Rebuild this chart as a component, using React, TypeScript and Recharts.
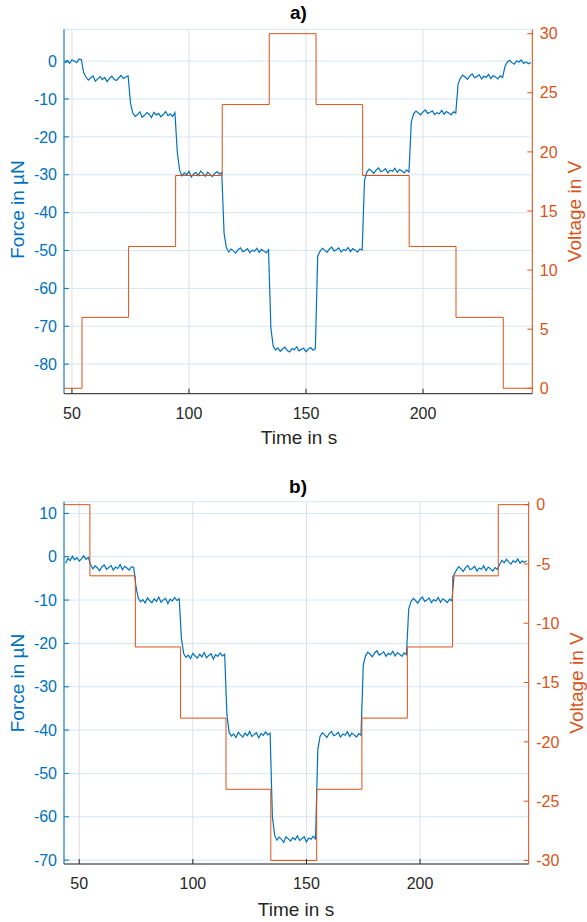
import React from 'react';
import { LineChart, Line, XAxis, YAxis, CartesianGrid } from 'recharts';

const FONT = '"Liberation Sans", Arial, Helvetica, sans-serif';
const BLUE = '#0072BD';
const ORANGE = '#D95319';
const DARK = '#262626';
const GRID_H = '#d6e7f4';
const GRID_V = '#dcdfe3';

const X_TICKS = [50, 100, 150, 200];

// ---- panel a) ----
const FORCE_A_START = 47; // s, one sample per second
const FORCE_A = [
  -0.5, 0.1, -0.6, 0.3, 0.0, -0.4, 0.6, 0.4,
  -3.0, -4.2, -5.0, -4.4, -3.9, -5.3, -4.7, -4.1, -4.9, -4.3, -5.4, -4.6, -4.0, -4.8, -5.1, -4.4, -3.8, -4.6, -4.2, -3.9,
  -11.0, -13.7, -14.6, -14.1, -13.4, -14.8, -14.3, -13.6, -14.0, -14.9, -13.5, -14.2, -13.8, -14.7, -14.1, -13.3, -14.4, -13.9, -14.6, -13.6,
  -24.0, -28.8, -30.3, -29.5, -30.0, -29.1, -30.6, -29.8, -29.4, -30.2, -29.0, -29.7, -30.4, -29.3, -29.9, -30.5, -29.6, -29.2, -29.8, -29.4,
  -45.5, -49.3, -50.4, -49.6, -50.1, -50.7, -49.8, -49.3, -50.3, -50.0, -49.5, -50.6, -49.9, -50.2, -49.4, -50.5, -49.7, -50.1, -50.6, -49.8,
  -70.5, -75.3, -76.3, -75.7, -76.6, -76.0, -75.5, -76.4, -76.8, -75.9, -76.2, -75.4, -76.5, -76.1, -75.8, -76.7, -76.0, -75.6, -76.3, -75.9,
  -51.5, -50.2, -49.4, -49.9, -50.5, -49.6, -49.1, -50.1, -49.8, -49.3, -50.4, -49.7, -50.0, -49.2, -50.3, -49.5, -49.9, -50.4, -49.6, -49.9,
  -31.5, -29.3, -28.5, -29.0, -29.6, -28.7, -28.2, -29.2, -28.9, -28.4, -29.5, -28.8, -29.1, -28.3, -29.4, -28.6, -29.0, -29.5, -28.7, -29.3,
  -16.0, -13.9, -13.2, -13.7, -14.2, -13.4, -12.9, -13.8, -13.5, -13.1, -14.1, -13.6, -13.9, -13.0, -14.0, -13.3, -13.7, -14.2, -13.4, -13.7,
  -6.0, -4.5, -3.7, -4.2, -4.8, -3.9, -3.4, -4.4, -4.1, -3.6, -4.7, -4.0, -4.3, -3.5, -4.6, -3.8, -4.2, -4.7, -3.9, -4.3,
  -1.5, -0.2, 0.2, -0.4, -0.8, 0.1, -0.3, 0.3, -0.6, -0.2, -0.7, -0.4,
];
const VOLT_A_TIME = [46.6, 54.3, 74.2, 94.3, 114.2, 134.3, 154.3, 174.2, 194.1, 214.1, 234.3, 246.7];
const VOLT_A = [0, 6, 12, 18, 24, 30, 24, 18, 12, 6, 0, 0];
const FORCE_A_TICKS = [-80, -70, -60, -50, -40, -30, -20, -10, 0];
const VOLT_A_TICKS = [0, 5, 10, 15, 20, 25, 30];

// ---- panel b) ----
const FORCE_B_START = 44;
const FORCE_B = [
  -1.5, -0.4, -0.9, 0.1, -0.7, -0.2, -1.0, -0.5, 0.2, -0.6, -0.2,
  -1.8, -2.8, -2.1, -2.6, -3.2, -2.3, -1.9, -2.9, -2.5, -2.0, -3.1, -2.4, -2.7, -1.8, -3.0, -2.2, -2.6, -3.1, -2.3, -2.5,
  -7.0, -9.6, -10.4, -9.9, -10.7, -9.5, -10.1, -10.6, -9.7, -10.3, -9.3, -10.5, -10.0, -9.6, -10.8, -9.8, -10.2, -9.4, -10.1, -9.7,
  -19.0, -22.4, -23.2, -22.7, -23.5, -22.3, -22.9, -23.4, -22.5, -23.1, -22.1, -23.3, -22.8, -22.4, -23.6, -22.6, -23.0, -22.2, -22.9, -22.5,
  -36.5, -40.6, -41.4, -40.9, -41.7, -40.5, -41.1, -41.6, -40.7, -41.3, -40.3, -41.5, -41.0, -40.6, -41.8, -40.8, -41.2, -40.4, -41.1, -40.7,
  -60.0, -64.3, -65.4, -64.7, -65.2, -65.9, -64.6, -65.1, -65.6, -64.8, -65.3, -64.4, -65.5, -65.0, -64.6, -65.8, -64.9, -65.2, -64.5, -65.1,
  -44.5, -41.4, -40.6, -41.1, -41.7, -40.8, -40.3, -41.3, -41.0, -40.5, -41.6, -40.9, -41.2, -40.4, -41.5, -40.7, -41.1, -41.6, -40.8, -41.2,
  -25.0, -22.8, -22.0, -22.5, -23.1, -22.2, -21.7, -22.7, -22.4, -21.9, -23.0, -22.3, -22.6, -21.8, -22.9, -22.1, -22.5, -23.0, -22.2, -22.6,
  -12.0, -10.4, -9.6, -10.1, -10.7, -9.8, -9.3, -10.3, -10.0, -9.5, -10.6, -9.9, -10.2, -9.4, -10.5, -9.7, -10.1, -10.6, -9.8, -10.2,
  -4.0, -3.1, -2.3, -2.8, -3.4, -2.5, -2.0, -3.0, -2.7, -2.2, -3.3, -2.6, -2.9, -2.1, -3.2, -2.4, -2.8, -3.3, -2.5, -2.9,
  -1.8, -0.8, -1.4, -0.6, -1.2, -1.7, -0.9, -1.3, -0.5, -1.5, -1.0, -1.3, -0.9,
];
const VOLT_B_TIME = [43.3, 54.7, 74.7, 94.6, 114.6, 134.3, 154.5, 174.4, 194.4, 214.3, 234.4, 247.8];
const VOLT_B = [0, -6, -12, -18, -24, -30, -24, -18, -12, -6, 0, 0];
const FORCE_B_TICKS = [-70, -60, -50, -40, -30, -20, -10, 0, 10];
const VOLT_B_TICKS = [-30, -25, -20, -15, -10, -5, 0];

const tickFont = { fontSize: 16, fontFamily: FONT };

type PanelProps = {
  top: number;
  height: number;
  marginTop: number;
  xAxisHeight: number;
  rightWidth: number;
  xDomain: [number, number];
  leftDomain: [number, number];
  rightDomain: [number, number];
  leftTicks: number[];
  rightTicks: number[];
  force: { t: number; f: number }[];
  volt: { t: number; v: number }[];
};

function Panel(p: PanelProps) {
  return (
    <div style={{ position: 'absolute', left: 0, top: p.top }}>
      <LineChart
        width={587}
        height={p.height}
        margin={{ top: p.marginTop, right: 0, bottom: 0, left: 0 }}
      >
        <CartesianGrid yAxisId="left" horizontal={false} stroke={GRID_V} />
        <CartesianGrid yAxisId="left" vertical={false} stroke={GRID_H} />
        <XAxis
          dataKey="t"
          type="number"
          domain={p.xDomain}
          allowDataOverflow
          ticks={X_TICKS}
          height={p.xAxisHeight}
          stroke={DARK}
          tickSize={-5}
          tickMargin={19}
          tick={{ ...tickFont, fill: DARK }}
        />
        <YAxis
          yAxisId="left"
          type="number"
          domain={p.leftDomain}
          allowDataOverflow
          ticks={p.leftTicks}
          width={64}
          stroke={BLUE}
          tickSize={-5}
          tickMargin={12}
          tick={{ ...tickFont, fill: BLUE }}
        />
        <YAxis
          yAxisId="right"
          orientation="right"
          type="number"
          domain={p.rightDomain}
          allowDataOverflow
          ticks={p.rightTicks}
          width={p.rightWidth}
          stroke={ORANGE}
          tickSize={-5}
          tickMargin={12.5}
          tick={{ ...tickFont, fill: ORANGE }}
        />
        <Line
          yAxisId="left"
          data={p.force}
          dataKey="f"
          type="linear"
          stroke={BLUE}
          strokeWidth={1.2}
          dot={false}
          isAnimationActive={false}
        />
        <Line
          yAxisId="right"
          data={p.volt}
          dataKey="v"
          type="stepAfter"
          stroke={ORANGE}
          strokeWidth={1}
          dot={false}
          isAnimationActive={false}
        />
      </LineChart>
    </div>
  );
}

const forceA = FORCE_A.map((f, i) => ({ t: FORCE_A_START + i, f }));
const voltA = VOLT_A.map((v, i) => ({ t: VOLT_A_TIME[i], v }));
const forceB = FORCE_B.map((f, i) => ({ t: FORCE_B_START + i, f }));
const voltB = VOLT_B.map((v, i) => ({ t: VOLT_B_TIME[i], v }));

const labelStyle = { fontFamily: FONT, fontSize: 19 };

export default function App() {
  return (
    <div style={{ position: 'absolute', left: 0, top: 0, width: 587, height: 922, background: '#fff' }}>
      <Panel
        top={0}
        height={460}
        marginTop={29.3}
        xAxisHeight={66.3}
        rightWidth={54.7}
        xDomain={[46.6, 246.7]}
        leftDomain={[-87.8, 8.4]}
        rightDomain={[-0.46, 30.37]}
        leftTicks={FORCE_A_TICKS}
        rightTicks={VOLT_A_TICKS}
        force={forceA}
        volt={voltA}
      />
      <Panel
        top={470}
        height={452}
        marginTop={31.7}
        xAxisHeight={58}
        rightWidth={58.3}
        xDomain={[43.3, 247.8]}
        leftDomain={[-70.9, 12.7]}
        rightDomain={[-30.3, 0.25]}
        leftTicks={FORCE_B_TICKS}
        rightTicks={VOLT_B_TICKS}
        force={forceB}
        volt={voltB}
      />
      <svg
        width={587}
        height={922}
        style={{ position: 'absolute', left: 0, top: 0, pointerEvents: 'none' }}
      >
        <text x={298.5} y={19} textAnchor="middle" fontWeight="bold" fill="#000" {...labelStyle}>a)</text>
        <text x={299} y={444} textAnchor="middle" fill={DARK} {...labelStyle}>Time in s</text>
        <text transform="translate(23.6,209.5) rotate(-90)" textAnchor="middle" fill={BLUE} {...labelStyle}>Force in µN</text>
        <text transform="translate(581,211.5) rotate(-90)" textAnchor="middle" fill={ORANGE} {...labelStyle}>Voltage in V</text>

        <text x={298} y={493} textAnchor="middle" fontWeight="bold" fill="#000" {...labelStyle}>b)</text>
        <text x={296} y={915.5} textAnchor="middle" fill={DARK} {...labelStyle}>Time in s</text>
        <text transform="translate(23.6,683) rotate(-90)" textAnchor="middle" fill={BLUE} {...labelStyle}>Force in µN</text>
        <text transform="translate(582.5,683) rotate(-90)" textAnchor="middle" fill={ORANGE} {...labelStyle}>Voltage in V</text>
      </svg>
    </div>
  );
}
